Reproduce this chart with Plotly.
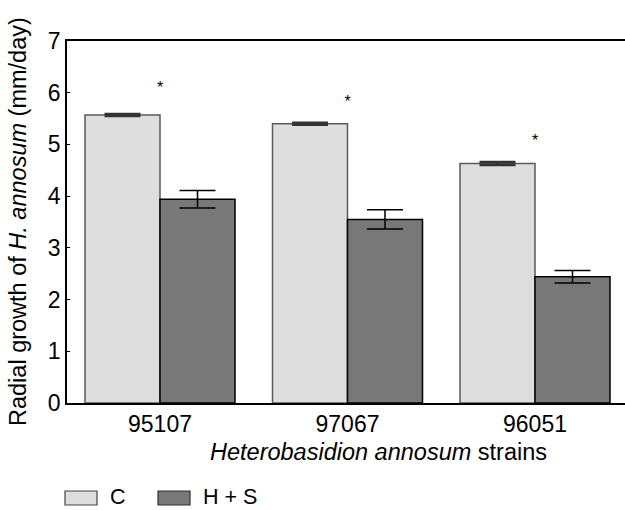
import plotly.graph_objects as go

strains = ["95107", "97067", "96051"]
c_vals = [5.57, 5.40, 4.63]
c_err = [0.02, 0.02, 0.03]
hs_vals = [3.94, 3.55, 2.44]
hs_err = [0.17, 0.185, 0.12]
star_y = [6.07, 5.80, 5.05]
y_ticks = [0, 1, 2, 3, 4, 5, 6, 7]

FONT = "Liberation Sans, Arial, sans-serif"
C_FILL = "#dedede"
HS_FILL = "#787878"

fig = go.Figure()
fig.add_trace(go.Bar(
    x=strains, y=c_vals, name="C",
    marker=dict(color=C_FILL, line=dict(color="#5a5a5a", width=1.5)),
    error_y=dict(type="data", array=c_err, color="#333333", thickness=2.5, width=18),
    showlegend=False,
))
fig.add_trace(go.Bar(
    x=strains, y=hs_vals, name="H + S",
    marker=dict(color=HS_FILL, line=dict(color="#000000", width=1.5)),
    error_y=dict(type="data", array=hs_err, color="#000000", thickness=1.5, width=18),
    showlegend=False,
))
fig.add_trace(go.Scatter(
    x=strains, y=star_y, mode="text", text=["*"] * len(strains),
    textposition="middle center",
    textfont=dict(size=16, color="black", family=FONT),
    showlegend=False, hoverinfo="skip",
))

# axis titles
fig.add_annotation(xref="paper", yref="paper", x=0, y=0.5, xshift=-49,
                   text="Radial growth of <i>H. annosum</i> (mm/day)",
                   textangle=-90, showarrow=False,
                   font=dict(size=23.5, color="black", family=FONT),
                   xanchor="center", yanchor="middle")
fig.add_annotation(xref="paper", yref="paper", x=0.559, y=0, yshift=-49,
                   text="<i>Heterobasidion annosum</i> strains",
                   showarrow=False,
                   font=dict(size=23.5, color="black", family=FONT),
                   xanchor="center", yanchor="middle")

# legend drawn manually below the plot
legend_items = [("C", C_FILL, "#444444"), ("H + S", HS_FILL, "#333333")]
x0_px = [65, 158]
for (lab, fill, edge), xp in zip(legend_items, x0_px):
    fig.add_shape(type="rect", xref="paper", yref="paper",
                  x0=(xp - 67) / 558, x1=(xp + 32 - 67) / 558,
                  y0=-(505 - 403) / 362, y1=-(491 - 403) / 362,
                  fillcolor=fill, line=dict(color=edge, width=1.2))
    fig.add_annotation(xref="paper", yref="paper",
                       x=(xp + 43 - 67) / 558, y=-(497 - 403) / 362,
                       text=lab, showarrow=False, xanchor="left", yanchor="middle",
                       font=dict(size=21.5, color="black", family=FONT))

fig.update_layout(
    width=625, height=510,
    margin=dict(l=67, r=0, t=41, b=107),
    paper_bgcolor="white", plot_bgcolor="white",
    barmode="group", bargap=0.2, bargroupgap=0,
    font=dict(family=FONT, color="black", size=23),
    xaxis=dict(
        type="category",
        range=[-0.496, 2.48], showline=True, linecolor="black", linewidth=1.5,
        mirror=True, ticks="", showgrid=False, tickfont=dict(size=23),
        zeroline=False,
    ),
    yaxis=dict(
        range=[0, 7], tickvals=y_ticks, showline=True, linecolor="black",
        linewidth=1.5, ticks="inside", ticklen=3, tickcolor="black",
        showgrid=False, zeroline=False, tickfont=dict(size=23),
    ),
)

fig.write_html("out.html", config={"displayModeBar": False},
               post_script="document.body.style.margin='0';document.body.style.overflow='hidden';")
